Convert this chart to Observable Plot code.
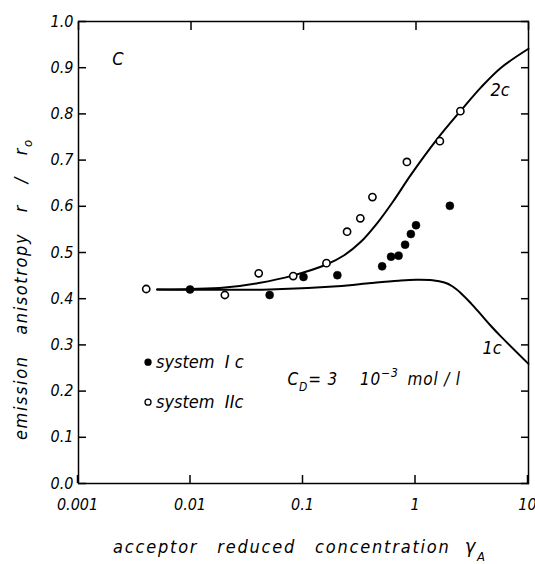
<!DOCTYPE html>
<html>
<head>
<meta charset="utf-8">
<script src="https://cdn.jsdelivr.net/npm/d3@7"></script>
<script src="https://cdn.jsdelivr.net/npm/@observablehq/plot@0.6"></script>
<style>
  html, body { margin: 0; padding: 0; background: white; }
  svg { overflow: visible; }
</style>
</head>
<body>
<div id="chart"></div>
<script>
// ---- data ----
const xTicks = [0.001, 0.01, 0.1, 1, 10];
const xTickLabels = ["0.001", "0.01", "0.1", "1", "10"];
const yTicks = [0, 0.1, 0.2, 0.3, 0.4, 0.5, 0.6, 0.7, 0.8, 0.9, 1.0];
const yTickLabels = ["0.0", "0.1", "0.2", "0.3", "0.4", "0.5", "0.6", "0.7", "0.8", "0.9", "1.0"];

// system I c (filled circles)
const sysIcX = [0.0098, 0.05, 0.1, 0.2, 0.5, 0.6, 0.7, 0.8, 0.9, 1.0, 2.0];
const sysIcY = [0.420, 0.408, 0.447, 0.451, 0.470, 0.491, 0.493, 0.517, 0.540, 0.559, 0.601];

// system II c (open circles)
const sysIIcX = [0.004, 0.02, 0.04, 0.081, 0.16, 0.244, 0.32, 0.41, 0.83, 1.63, 2.48];
const sysIIcY = [0.421, 0.408, 0.455, 0.449, 0.477, 0.545, 0.574, 0.620, 0.696, 0.741, 0.806];

// theoretical curve 2c
const curve2cX = [0.005, 0.01, 0.02, 0.04, 0.08, 0.16, 0.23, 0.32, 0.46, 0.64, 0.9, 1.56, 2.5, 3.8, 5.7, 10];
const curve2cY = [0.420, 0.421, 0.424, 0.434, 0.450, 0.474, 0.494, 0.522, 0.566, 0.614, 0.668, 0.747, 0.807, 0.858, 0.900, 0.941];

// theoretical curve 1c
const curve1cX = [0.005, 0.05, 0.2, 0.4, 0.7, 1.0, 1.4, 1.79, 2.1, 2.51, 3.08, 3.8, 4.64, 5.7, 10];
const curve1cY = [0.420, 0.420, 0.427, 0.434, 0.439, 0.441, 0.440, 0.435, 0.427, 0.412, 0.390, 0.365, 0.341, 0.318, 0.259];

// annotations
const panelLabel = {x: 0.00224, y: 0.919, text: "C"};
const curveLabels = [
  {x: 5.6, y: 0.851, text: "2c"},
  {x: 4.74, y: 0.292, text: "1c"}
];
const legendItems = [
  {x: 0.00415, y: 0.2626, filled: true, text: "system  I c"},
  {x: 0.00415, y: 0.176, filled: false, text: "system  IIc"}
];
const concAnnot = {x: 0.073, y: 0.225};

const zip = (xs, ys) => xs.map((x, i) => ({x, y: ys[i]}));
const ptsI = zip(sysIcX, sysIcY);
const ptsII = zip(sysIIcX, sysIIcY);
const line2c = zip(curve2cX, curve2cY);
const line1c = zip(curve1cX, curve1cY);

const FONT = "'DejaVu Sans Condensed', 'DejaVu Sans', sans-serif";

const plot = Plot.plot({
  width: 535,
  height: 564,
  marginLeft: 78,
  marginRight: 7,
  marginTop: 21,
  marginBottom: 81,
  style: {fontFamily: FONT, fontStyle: "italic", fontSize: "16px", background: "white", color: "black", overflow: "visible"},
  x: {type: "log", domain: [0.001, 10]},
  y: {domain: [0, 1]},
  marks: [
    Plot.frame({stroke: "black", strokeWidth: 1.5}),
    Plot.axisX({anchor: "bottom", ticks: xTicks, tickSize: -8, tickPadding: 23,
      tickFormat: d => xTickLabels[xTicks.indexOf(d)], label: null, strokeWidth: 1.5, dx: -1}),
    Plot.axisX({anchor: "top", ticks: xTicks, tickSize: -8, tickFormat: () => "", label: null, strokeWidth: 1.5}),
    Plot.axisY({anchor: "left", ticks: yTicks, tickSize: -8, tickPadding: 13,
      tickFormat: d => yTickLabels[yTicks.findIndex(t => Math.abs(t - d) < 1e-9)], label: null, strokeWidth: 1.5, letterSpacing: 1.5}),
    Plot.axisY({anchor: "right", ticks: yTicks, tickSize: -8, tickFormat: () => "", label: null, strokeWidth: 1.5}),
    Plot.line(line2c, {x: "x", y: "y", curve: "catmull-rom", stroke: "black", strokeWidth: 2}),
    Plot.line(line1c, {x: "x", y: "y", curve: "catmull-rom", stroke: "black", strokeWidth: 2}),
    Plot.dot(ptsII, {x: "x", y: "y", r: 3.6, stroke: "black", strokeWidth: 1.6, fill: "white"}),
    Plot.dot(ptsI, {x: "x", y: "y", r: 4, fill: "black", stroke: "black", strokeWidth: 0.5}),
    Plot.text([panelLabel], {x: "x", y: "y", text: "text", fontSize: 18}),
    Plot.text(curveLabels, {x: "x", y: "y", text: "text", fontSize: 18, letterSpacing: 1.5}),
    Plot.dot(legendItems, {x: "x", y: "y", r: 3, stroke: "black", strokeWidth: 1.3,
      fill: d => d.filled ? "black" : "white"}),
    Plot.text(legendItems, {x: "x", y: "y", text: "text", textAnchor: "start", dx: 8, fontSize: 18, letterSpacing: 1.6})
  ]
});

const svg = d3.select(plot);
const sx = plot.scale("x");
const sy = plot.scale("y");

// concentration annotation
const cx = sx.apply(concAnnot.x), cy = sy.apply(concAnnot.y);
const t = svg.append("text")
  .attr("x", cx).attr("y", cy + 6)
  .attr("text-anchor", "start")
  .style("font-family", FONT).style("font-style", "italic").style("font-size", "17px")
  .style("letter-spacing", "0.8px");
t.append("tspan").text("C");
t.append("tspan").attr("dy", 6).style("font-size", "12px").text("D");
t.append("tspan").attr("dy", -6).text("= 3");
t.append("tspan").attr("dx", 22).text("10");
t.append("tspan").attr("dy", -8).style("font-size", "12px").text("−3");
t.append("tspan").attr("dy", 8).attr("dx", 9).text("mol / l");

// x axis title
const xt = svg.append("text")
  .attr("x", 113).attr("y", 553)
  .attr("text-anchor", "start")
  .style("font-family", FONT).style("font-style", "italic").style("font-size", "18px")
  .style("letter-spacing", "1.8px").style("word-spacing", "12px");
xt.append("tspan").text("acceptor reduced concentration");
xt.append("tspan").attr("dx", 14).style("font-size", "20px").text("γ");
xt.append("tspan").attr("dy", 8).style("font-size", "13px").text("A");

// y axis title
const yt = svg.append("text")
  .attr("transform", "translate(27,440) rotate(-90)")
  .attr("text-anchor", "start")
  .style("font-family", FONT).style("font-style", "italic").style("font-size", "18px")
  .style("letter-spacing", "1.6px").style("word-spacing", "14px");
yt.append("tspan").text("emission anisotropy r / r");
yt.append("tspan").attr("dy", 5).style("font-size", "13px").text("o");

document.getElementById("chart").appendChild(plot);
</script>
</body>
</html>
